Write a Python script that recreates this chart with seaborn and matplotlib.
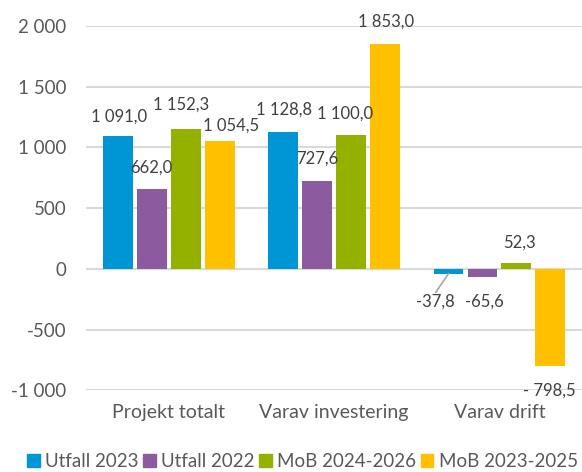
import pandas as pd
import numpy as np
import matplotlib.pyplot as plt
import seaborn as sns
from matplotlib.ticker import FuncFormatter

# --- Data ---
kategorier = ["Projekt totalt", "Varav investering", "Varav drift"]
serier = ["Utfall 2023", "Utfall 2022", "MoB 2024-2026", "MoB 2023-2025"]
utfall_2023 = [1091.0, 1128.8, -37.8]
utfall_2022 = [662.0, 727.6, -65.6]
mob_2024_2026 = [1152.3, 1100.0, 52.3]
mob_2023_2025 = [1054.5, 1853.0, -798.5]
y_ticks = [-1000, -500, 0, 500, 1000, 1500, 2000]

farger = ["#0096d6", "#8b5a9f", "#95b100", "#ffc000"]
textfarg = "#595959"

# long format for seaborn
rader = []
for serie, vals in zip(serier, [utfall_2023, utfall_2022, mob_2024_2026, mob_2023_2025]):
    for kat, v in zip(kategorier, vals):
        rader.append({"Kategori": kat, "Serie": serie, "Värde": v})
df = pd.DataFrame(rader)


def sv_format(v, decimaler=1):
    s = f"{abs(v):,.{decimaler}f}".replace(",", " ").replace(".", ",")
    if v < 0:
        # Excel-formatet ger "- 798,5" för tresiffriga negativa tal
        return ("- " if abs(v) >= 100 and decimaler else "-") + s
    return s


sns.set_theme(style="white")
plt.rcParams["font.family"] = ["Lato", "DejaVu Sans"]

fig = plt.figure(figsize=(5.82, 4.72), dpi=100)
ax = fig.add_axes([0.148, 0.1727, 0.852, 0.7723])

sns.barplot(data=df, x="Kategori", y="Värde", hue="Serie", order=kategorier,
            hue_order=serier, palette=farger, width=0.82, gap=0.12,
            saturation=1, linewidth=0, ax=ax, legend=True)

ax.set_ylim(-1000, 2000)
ax.set_yticks(y_ticks)
ax.yaxis.set_major_formatter(FuncFormatter(lambda v, p: sv_format(v, 0)))
ax.yaxis.grid(True, color="#d9d9d9", linewidth=1.5)
ax.set_axisbelow(True)
ax.axhline(0, color="#d9d9d9", linewidth=1.5, zorder=0.5)
for sp in ax.spines.values():
    sp.set_visible(False)
ax.set_xlabel("")
ax.set_ylabel("")
ax.tick_params(axis="y", length=0, pad=14, labelsize=13.5, labelcolor=textfarg)
ax.tick_params(axis="x", length=0, pad=10, labelsize=14, labelcolor=textfarg)

# etikettförskjutningar i pixlar (dx, dy) per serie och kategori
offsets = [
    [(1, 20), (1, 22), (-13, -28)],
    [(-1, 21), (0, 22), (2, -25)],
    [(-5, 24), (-6, 22), (3, 20)],
    [(11, 15), (1, 22), (-1, -25)],
]
for i, cont in enumerate(ax.containers):
    for j, bar in enumerate(cont):
        v = bar.get_height()
        xc = bar.get_x() + bar.get_width() / 2
        dx, dy = offsets[i][j]
        ax.annotate(sv_format(v), xy=(xc, v), xytext=(dx, dy),
                    textcoords="offset pixels", ha="center", va="center",
                    fontsize=12, color="#404040", annotation_clip=False)

# hänvisningslinje för -37,8
bar = ax.containers[0][2]
xc = bar.get_x() + bar.get_width() / 2
ax.annotate("", xy=(xc, bar.get_height()), xytext=(-13, -19),
            textcoords="offset pixels", annotation_clip=False,
            arrowprops=dict(arrowstyle="-", color="#a6a6a6", lw=1.2,
                            shrinkA=0, shrinkB=0))

ax.get_legend().remove()
handles = [plt.Rectangle((0, 0), 1, 1, color=c) for c in farger]
fig.legend(handles, serier, loc="center", bbox_to_anchor=(0.52, 0.022),
           ncol=4, frameon=False, fontsize=13.5, handlelength=0.65,
           handleheight=0.65, handletextpad=0.3, columnspacing=0.25,
           labelcolor=textfarg)

fig.savefig("out.png", dpi=100)
